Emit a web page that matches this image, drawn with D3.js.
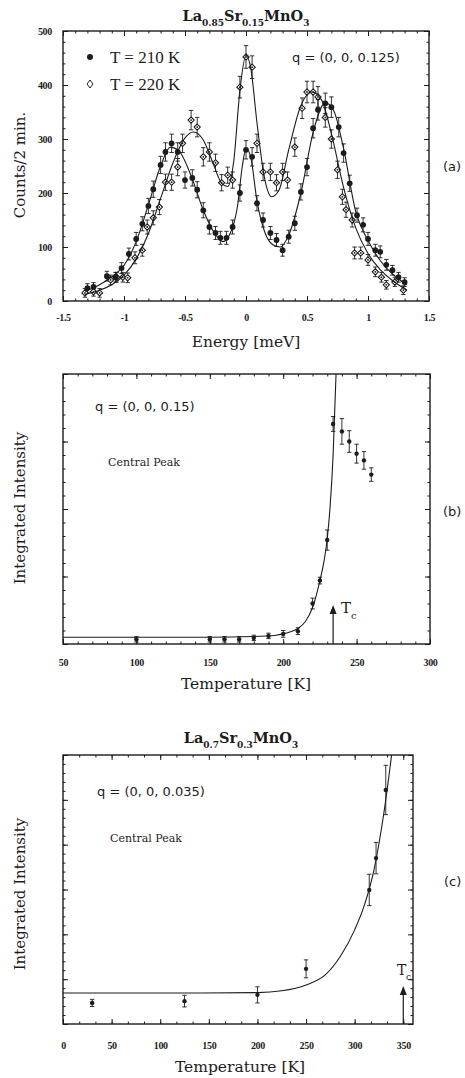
<!DOCTYPE html>
<html><head><meta charset="utf-8">
<script src="https://cdn.jsdelivr.net/npm/d3@7"></script>
<style>body{margin:0;background:#fff}</style>
</head><body>
<svg id="chart" width="465" height="1078"></svg>
<script>
// ---------- Panel (a): La0.85Sr0.15MnO3, q=(0,0,0.125) ----------
const energy210 = [-1.30,-1.25,-1.14,-1.07,-1.02,-0.96,-0.90,-0.85,-0.80,-0.76,-0.70,-0.66,-0.61,-0.56,-0.50,-0.44,-0.40,-0.35,-0.30,-0.25,-0.21,-0.16,-0.11,-0.05,0.00,0.05,0.09,0.14,0.20,0.25,0.30,0.35,0.40,0.45,0.50,0.55,0.59,0.65,0.70,0.76,0.80,0.85,0.91,0.96,1.00,1.06,1.10,1.15,1.20,1.25,1.30];
const counts210 = [24,26,46,44,61,87,115,143,176,207,252,276,292,276,224,228,206,168,137,126,117,117,137,200,280,267,181,150,126,113,94,119,144,202,248,320,354,366,359,322,274,218,159,141,115,94,91,67,57,44,35];
const err210    = [8,8,9,9,10,11,12,13,14,15,16,17,17,17,15,15,15,14,13,12,12,12,13,15,17,17,14,13,12,12,11,12,13,15,16,18,19,19,19,18,17,15,13,13,12,11,11,10,9,9,8];

const energy220 = [-1.32,-1.25,-1.20,-1.11,-1.06,-1.01,-0.97,-0.91,-0.85,-0.81,-0.76,-0.71,-0.66,-0.61,-0.56,-0.52,-0.45,-0.40,-0.35,-0.30,-0.25,-0.20,-0.15,-0.11,-0.05,0.00,0.05,0.09,0.14,0.20,0.25,0.30,0.34,0.40,0.46,0.50,0.55,0.59,0.65,0.70,0.75,0.79,0.82,0.87,0.89,0.94,1.00,1.06,1.11,1.15,1.22,1.29];
const counts220 = [15,17,15,39,44,44,43,80,94,137,154,174,220,220,248,292,335,322,267,276,256,219,233,224,396,452,433,292,239,239,219,239,224,285,357,387,387,378,340,300,243,193,169,150,89,89,76,54,44,30,35,20];
const err220    = [8,8,8,9,9,9,9,11,11,13,13,14,15,15,16,17,18,18,17,17,16,15,15,15,20,21,21,17,16,16,15,16,15,17,19,20,20,19,18,17,16,14,14,13,11,11,10,9,9,8,8,8];

const fitE210 = [-1.32,-1.2,-1.1,-1.0,-0.9,-0.8,-0.7,-0.62,-0.55,-0.45,-0.35,-0.25,-0.19,-0.13,-0.07,-0.03,0.0,0.04,0.09,0.15,0.22,0.28,0.35,0.45,0.55,0.65,0.72,0.8,0.9,1.0,1.1,1.2,1.32];
const fitC210 = [18,30,45,66,110,178,250,285,278,232,168,123,110,125,175,250,283,265,185,130,104,100,122,200,312,367,352,282,165,112,75,50,30];
const fitE220 = [-1.32,-1.2,-1.1,-1.0,-0.9,-0.8,-0.7,-0.6,-0.5,-0.43,-0.35,-0.27,-0.2,-0.15,-0.1,-0.05,0.0,0.04,0.09,0.15,0.21,0.27,0.35,0.45,0.54,0.62,0.7,0.8,0.9,1.0,1.1,1.2,1.32];
const fitC220 = [12,20,30,48,78,125,190,255,302,313,298,255,218,212,260,390,455,430,330,230,193,205,280,362,387,372,310,210,135,88,58,38,20];

const xTicksA = [-1.5,-1,-0.5,0,0.5,1,1.5];
const xTickLabelsA = ["-1.5","-1","-0.5","0","0.5","1","1.5"];
const yTicksA = [0,100,200,300,400,500];

// ---------- Panel (b): q=(0,0,0.15) ----------
const tempB = [100,150,160,170,180,190,200,210,220,225,230,234,240,245,250,255,260];
const intB  = [0.07,0.07,0.07,0.07,0.09,0.12,0.15,0.19,0.60,0.94,1.54,3.26,3.15,3.00,2.82,2.72,2.51];
const errB  = [0.04,0.04,0.04,0.04,0.04,0.04,0.05,0.05,0.08,0.05,0.15,0.11,0.19,0.16,0.14,0.13,0.10];
const fitTB = [50,100,150,180,195,200,205,210,215,220,225,228,230,232,234,236];
const fitIB = [0.1,0.1,0.1,0.11,0.13,0.15,0.18,0.23,0.33,0.54,0.94,1.25,1.56,2.05,2.8,4.0];
const xTicksB = [50,100,150,200,250,300];
const TcB = 234;

// ---------- Panel (c): La0.7Sr0.3MnO3, q=(0,0,0.035) ----------
const tempC = [30,125,200,250,315,322,332];
const intC  = [0.47,0.51,0.65,1.23,2.99,3.7,5.22];
const errC  = [0.08,0.13,0.18,0.2,0.35,0.35,0.55];
const fitTC = [0,100,200,225,250,270,285,300,310,320,330,338];
const fitIC = [0.69,0.69,0.70,0.74,0.87,1.1,1.5,2.1,2.65,3.45,4.7,6.0];
const xTicksC = [0,50,100,150,200,250,300,350];
const TcC = 350;

// ---------- drawing ----------
const ink = "#1c1c1c";
const svg = d3.select("#chart");
svg.append("rect").attr("width",465).attr("height",1078).attr("fill","#fff");
const serif = "'DejaVu Serif', serif";
const tickFont = "'Liberation Serif', serif";

let clipId = 0;
function panel(o){
  const x = d3.scaleLinear().domain(o.xDomain).range([o.left,o.right]);
  const y = d3.scaleLinear().domain(o.yDomain).range([o.bottom,o.top]);
  const g = svg.append("g");
  const fmt = o.xFormat || (d=>d);
  function ax(gen, tr, vals, size, labels, pad){
    const a = gen.tickValues(vals).tickSizeInner(-size).tickSizeOuter(0).tickPadding(pad||3)
      .tickFormat(labels ? labels : "");
    const s = g.append("g").attr("transform",tr).call(a);
    s.select(".domain").remove();
    s.selectAll("line").attr("stroke",ink).attr("stroke-width",1);
    s.selectAll("text").attr("fill",ink).attr("font-family",tickFont).attr("font-weight","bold")
      .attr("font-size",10).attr("letter-spacing",-0.3);
    return s;
  }
  ax(d3.axisBottom(x), `translate(0,${o.bottom})`, o.xMajor, 5, fmt, o.xPad);
  ax(d3.axisBottom(x), `translate(0,${o.bottom})`, o.xMinor, 2.5, null);
  ax(d3.axisTop(x), `translate(0,${o.top})`, o.xMajor, 5, null);
  ax(d3.axisTop(x), `translate(0,${o.top})`, o.xMinor, 2.5, null);
  ax(d3.axisLeft(y), `translate(${o.left},0)`, o.yMajor, 5, o.yFormat||null, o.yPad);
  ax(d3.axisLeft(y), `translate(${o.left},0)`, o.yMinor, 2.5, null);
  ax(d3.axisRight(y), `translate(${o.right},0)`, o.yMajor, 5, null);
  ax(d3.axisRight(y), `translate(${o.right},0)`, o.yMinor, 2.5, null);
  g.append("rect").attr("x",o.left).attr("y",o.top).attr("width",o.right-o.left)
    .attr("height",o.bottom-o.top).attr("fill","none").attr("stroke",ink).attr("stroke-width",1.4);
  const id = "clip"+(clipId++);
  svg.append("clipPath").attr("id",id).append("rect").attr("x",o.left).attr("y",o.top)
    .attr("width",o.right-o.left).attr("height",o.bottom-o.top);
  const inner = svg.append("g").attr("clip-path",`url(#${id})`);
  return {x,y,g,inner};
}
function range(a,b,s){const r=[];for(let v=a;v<=b+1e-9;v+=s)r.push(+v.toFixed(4));return r;}

function fitLine(p, xs, ys){
  p.inner.append("path").datum(xs.map((v,i)=>[v,ys[i]]))
    .attr("fill","none").attr("stroke",ink).attr("stroke-width",1.1)
    .attr("d", d3.line().x(d=>p.x(d[0])).y(d=>p.y(d[1])).curve(d3.curveMonotoneX));
}
function errBars(p, xs, ys, es, cap){
  const g = p.g.append("g").attr("stroke",ink).attr("stroke-width",0.9);
  xs.forEach((v,i)=>{
    const X=p.x(v), y1=p.y(ys[i]-es[i]), y2=p.y(ys[i]+es[i]);
    g.append("line").attr("x1",X).attr("x2",X).attr("y1",y1).attr("y2",y2);
    g.append("line").attr("x1",X-cap).attr("x2",X+cap).attr("y1",y1).attr("y2",y1);
    g.append("line").attr("x1",X-cap).attr("x2",X+cap).attr("y1",y2).attr("y2",y2);
  });
}
function dots(p, xs, ys, r){
  p.g.append("g").selectAll("circle").data(xs.map((v,i)=>[v,ys[i]])).join("circle")
    .attr("cx",d=>p.x(d[0])).attr("cy",d=>p.y(d[1])).attr("r",r).attr("fill",ink);
}
function diamonds(p, xs, ys, r){
  const g = p.g.append("g");
  const pts = xs.map((v,i)=>[v,ys[i]]);
  g.selectAll("path").data(pts).join("path")
    .attr("d",d=>{const X=p.x(d[0]),Y=p.y(d[1]);return `M${X},${Y-r}L${X+r},${Y}L${X},${Y+r}L${X-r},${Y}Z`;})
    .attr("fill","#fff").attr("stroke",ink).attr("stroke-width",1.1);
  g.selectAll("circle").data(pts).join("circle")
    .attr("cx",d=>p.x(d[0])).attr("cy",d=>p.y(d[1])).attr("r",0.9).attr("fill",ink);
}
function text(x,y,s,size,opts={}){
  const t = svg.append("text").attr("x",x).attr("y",y).attr("font-size",size)
    .attr("font-family",opts.family||serif).attr("fill",ink)
    .attr("text-anchor",opts.anchor||"start").text(s);
  if(opts.weight) t.attr("font-weight",opts.weight);
  if(opts.rotate) t.attr("transform",`rotate(-90,${x},${y})`);
  return t;
}
function formula(cx, y, parts, size){
  const t = svg.append("text").attr("x",cx).attr("y",y).attr("text-anchor","middle")
    .attr("font-family",serif).attr("font-weight","bold").attr("fill",ink).attr("font-size",size);
  parts.forEach(([s,sub],i)=>{
    const prevSub = i>0 && parts[i-1][1];
    const ts = t.append("tspan").text(s);
    if(sub) ts.attr("font-size",size*0.62);
    ts.attr("dy", sub&&!prevSub?5:(!sub&&prevSub?-5:0));
  });
  return t;
}
function arrow(p, T, yTop){
  const X=p.x(T), yb=p.y.range()[0];
  p.g.append("line").attr("x1",X).attr("x2",X).attr("y1",yb).attr("y2",yTop+6)
    .attr("stroke",ink).attr("stroke-width",1.2);
  p.g.append("path").attr("d",`M${X},${yTop}L${X+3.5},${yTop+9}L${X-3.5},${yTop+9}Z`).attr("fill",ink);
}

// Panel (a)
const pa = panel({left:63,right:429,top:31,bottom:301,xDomain:[-1.5,1.5],yDomain:[0,500],
  xMajor:xTicksA, xMinor:range(-1.5,1.5,0.1), yMajor:yTicksA, yMinor:range(0,500,20),
  xFormat:(d,i)=>xTickLabelsA[i], yFormat:d=>d, xPad:13, yPad:11});
fitLine(pa, fitE220, fitC220);
fitLine(pa, fitE210, fitC210);
errBars(pa, energy220, counts220, err220, 2.2);
errBars(pa, energy210, counts210, err210, 2.2);
diamonds(pa, energy220, counts220, 3.1);
dots(pa, energy210, counts210, 2.9);
formula(246, 21, [["La",0],["0.85",1],["Sr",0],["0.15",1],["MnO",0],["3",1]], 14.5);
svg.append("circle").attr("cx",90).attr("cy",57).attr("r",3).attr("fill",ink);
svg.append("path").attr("d","M90,80L93,84L90,88L87,84Z").attr("fill","#fff").attr("stroke",ink);
text(110,63,"T = 210 K",17,{family:"'Liberation Serif', serif"});
text(110,90,"T = 220 K",17,{family:"'Liberation Serif', serif"});
text(292,62,"q = (0, 0, 0.125)",13,{family:"'DejaVu Sans', sans-serif"});
text(443,171,"(a)",13,{family:"'DejaVu Sans', sans-serif"});
text(246,347,"Energy [meV]",15.5,{anchor:"middle"});
text(25,165,"Counts/2 min.",15,{anchor:"middle",rotate:true});

// Panel (b)
const pb = panel({left:63,right:430,top:374,bottom:644,xDomain:[50,300],yDomain:[0,4],
  xMajor:xTicksB, xMinor:range(50,300,10), yMajor:range(0,4,1), yMinor:range(0,4,0.2),
  xFormat:d=>d, xPad:15});
fitLine(pb, fitTB, fitIB);
errBars(pb, tempB, intB, errB, 2.2);
dots(pb, tempB, intB, 2.2);
arrow(pb, TcB, 605);
text(341,613,"T",15,{});
text(351,619,"c",10,{});
text(95,411,"q = (0, 0, 0.15)",13,{family:"'DejaVu Sans', sans-serif"});
text(108,466,"Central Peak",11,{});
text(443,516,"(b)",13,{family:"'DejaVu Sans', sans-serif"});
text(246,689,"Temperature [K]",15.5,{anchor:"middle"});
text(25,508,"Integrated Intensity",15,{anchor:"middle",rotate:true});

// Panel (c)
const pc = panel({left:63,right:413,top:755,bottom:1024,xDomain:[0,360],yDomain:[0,6],
  xMajor:xTicksC, xMinor:range(0,360,50/3), yMajor:range(0,6,1), yMinor:range(0,6,0.2),
  xFormat:d=>d, xPad:18});
fitLine(pc, fitTC, fitIC);
errBars(pc, tempC, intC, errC, 2.2);
dots(pc, tempC, intC, 2.2);
arrow(pc, TcC, 986);
text(397,975,"T",14,{});
text(406,980,"c",9,{});
formula(241, 743, [["La",0],["0.7",1],["Sr",0],["0.3",1],["MnO",0],["3",1]], 14.5);
text(97,796,"q = (0, 0, 0.035)",13,{family:"'DejaVu Sans', sans-serif"});
text(110,842,"Central Peak",11,{});
text(444,886,"(c)",13,{family:"'DejaVu Sans', sans-serif"});
text(240,1072,"Temperature [K]",15.5,{anchor:"middle"});
text(25,894,"Integrated Intensity",15,{anchor:"middle",rotate:true});
</script>
</body></html>
